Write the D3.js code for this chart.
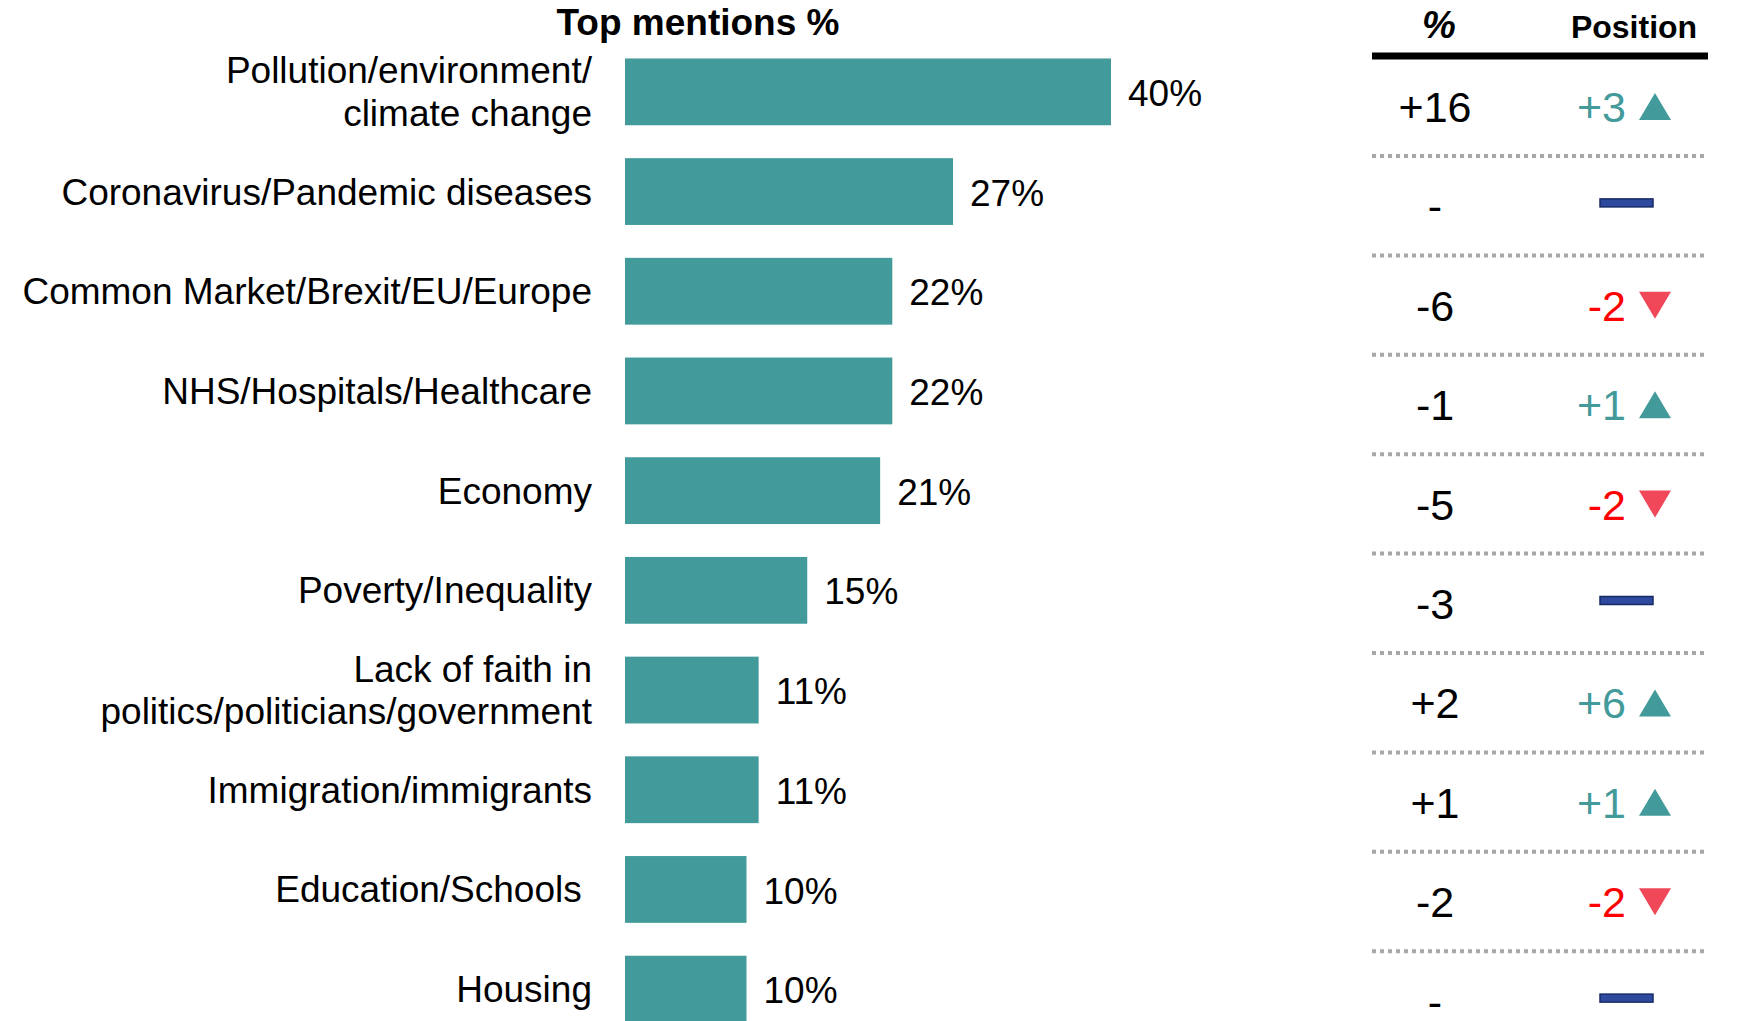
<!DOCTYPE html>
<html>
<head>
<meta charset="utf-8">
<script src="https://cdn.jsdelivr.net/npm/d3@7"></script>
<style>
  body { margin: 0; background: #fff; }
  svg { display: block; font-family: Arial, "Liberation Sans", sans-serif; }
</style>
</head>
<body>
<svg id="chart" width="1737" height="1021"></svg>
<script>
// chart values
const categories = [
  ["Pollution/environment/", "climate change"],
  ["Coronavirus/Pandemic diseases"],
  ["Common Market/Brexit/EU/Europe"],
  ["NHS/Hospitals/Healthcare"],
  ["Economy"],
  ["Poverty/Inequality"],
  ["Lack of faith in", "politics/politicians/government"],
  ["Immigration/immigrants"],
  ["Education/Schools "],
  ["Housing"]
];
const mentions = [40, 27, 22, 22, 21, 15, 11, 11, 10, 10];
const pctChange = ["+16", "-", "-6", "-1", "-5", "-3", "+2", "+1", "-2", "-"];
const positionChange = [3, 0, -2, 1, -2, 0, 6, 1, -2, 0];

const teal = "#439a9a";
const red = "#ff0000";

const svg = d3.select("#chart");
const idx = d3.range(mentions.length);

const x = d3.scaleLinear().domain([0, 40]).range([625, 1111]);
const y = d3.scaleBand()
  .domain(idx)
  .range([42, 1039])
  .paddingInner(0.33)
  .paddingOuter(0.165);

// table rows sit on a slightly tighter grid than the bars
const row = d3.scalePoint().domain(idx).range([122, 122 + 9 * 99.4]);

// title
svg.append("text")
  .attr("x", 698).attr("y", 35)
  .attr("text-anchor", "middle")
  .attr("font-weight", "bold")
  .attr("font-size", 37)
  .text("Top mentions %");

// bars
svg.append("g")
  .selectAll("rect")
  .data(idx)
  .join("rect")
  .attr("x", x(0))
  .attr("y", (i) => y(i))
  .attr("width", (i) => x(mentions[i]) - x(0))
  .attr("height", y.bandwidth())
  .attr("fill", teal);

// value labels
svg.append("g")
  .selectAll("text")
  .data(idx)
  .join("text")
  .attr("x", (i) => x(mentions[i]) + 17)
  .attr("y", (i) => y(i) + y.bandwidth() / 2)
  .attr("dy", "0.38em")
  .attr("font-size", 37)
  .text((i) => mentions[i] + "%");

// category labels
const lab = svg.append("g")
  .selectAll("text")
  .data(idx)
  .join("text")
  .attr("text-anchor", "end")
  .attr("font-size", 37)
  .style("white-space", "pre")
  .attr("y", (i) => y(i) + y.bandwidth() / 2);

lab.selectAll("tspan")
  .data((i) => categories[i].map((t, k) => ({ t: t, k: k, n: categories[i].length })))
  .join("tspan")
  .attr("x", 592)
  .attr("dy", (d) => d.k === 0 ? (0.35 - (d.n - 1) * 0.58) + "em" : "1.16em")
  .text((d) => d.t);

// table headers
svg.append("text")
  .attr("x", 1439).attr("y", 38)
  .attr("text-anchor", "middle")
  .attr("font-weight", "bold")
  .attr("font-style", "italic")
  .attr("font-size", 38)
  .text("%");

svg.append("text")
  .attr("x", 1634).attr("y", 38)
  .attr("text-anchor", "middle")
  .attr("font-weight", "bold")
  .attr("font-size", 32)
  .text("Position");

svg.append("line")
  .attr("x1", 1372).attr("x2", 1708)
  .attr("y1", 56).attr("y2", 56)
  .attr("stroke", "#000")
  .attr("stroke-width", 7);

// dotted row separators
svg.append("g")
  .selectAll("line")
  .data(idx.slice(0, -1))
  .join("line")
  .attr("x1", 1372).attr("x2", 1708)
  .attr("y1", (i) => row(i) + 34)
  .attr("y2", (i) => row(i) + 34)
  .attr("stroke", "#a8a8a8")
  .attr("stroke-width", 4)
  .attr("stroke-dasharray", "4 4");

// % change column
svg.append("g")
  .selectAll("text")
  .data(idx)
  .join("text")
  .attr("x", 1435)
  .attr("y", (i) => row(i))
  .attr("text-anchor", "middle")
  .attr("font-size", 43)
  .text((i) => pctChange[i]);

// position change column
const pos = svg.append("g")
  .selectAll("g")
  .data(idx)
  .join("g")
  .attr("transform", (i) => `translate(0,${row(i)})`);

pos.filter((i) => positionChange[i] !== 0)
  .append("text")
  .attr("x", 1626)
  .attr("text-anchor", "end")
  .attr("font-size", 43)
  .attr("fill", (i) => positionChange[i] > 0 ? teal : red)
  .text((i) => (positionChange[i] > 0 ? "+" : "-") + Math.abs(positionChange[i]));

pos.filter((i) => positionChange[i] !== 0)
  .append("path")
  .attr("d", (i) => positionChange[i] > 0
    ? "M1639,-2 L1671,-2 L1655,-29 Z"
    : "M1639,-29 L1671,-29 L1655,-2 Z")
  .attr("fill", (i) => positionChange[i] > 0 ? teal : "#f04858");

pos.filter((i) => positionChange[i] === 0)
  .append("rect")
  .attr("x", 1600)
  .attr("y", -22.5)
  .attr("width", 53)
  .attr("height", 8)
  .attr("fill", "#2e4a9e")
  .attr("stroke", "#172a66")
  .attr("stroke-width", 1.5);
</script>
</body>
</html>
